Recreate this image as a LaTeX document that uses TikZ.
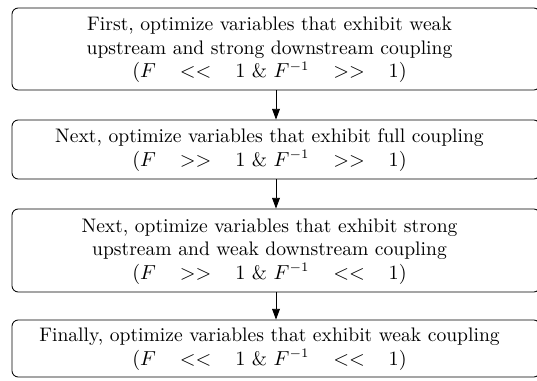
\documentclass[tikz,border=0pt]{standalone}
\usetikzlibrary{arrows.meta}
\begin{document}
\begin{tikzpicture}[x=0.54pt,y=-0.54pt,
  stepbox/.style={draw, rounded corners=3.4pt, line width=0.45pt, minimum width=528*0.54pt, inner sep=0pt},
  steptext/.style={align=center, inner sep=0pt, font=\fontsize{10.58}{12.7}\selectfont},
  flow/.style={-{Triangle[length=5.8pt,width=4.2pt]}, line width=0.45pt}]
\useasboundingbox (0,0) rectangle (537,380);
\newcommand{\relgap}{\hspace{0.93em}}
\node[stepbox, minimum height=82*0.54pt] (b1) at (276,49) {};
\node[stepbox, minimum height=59*0.54pt] (b2) at (276,149.5) {};
\node[stepbox, minimum height=83*0.54pt] (b3) at (276,250.5) {};
\node[stepbox, minimum height=57*0.54pt] (b4) at (276,348.5) {};
\node[steptext] (t1) at (269.5,50) {First, optimize variables that exhibit weak\\upstream and strong downstream coupling\\$(F\relgap<<\relgap1$ \& $F^{-1}\relgap>>\relgap1)$};
\node[steptext] (t2) at (269.5,150) {Next, optimize variables that exhibit full coupling\\$(F\relgap>>\relgap1$ \& $F^{-1}\relgap>>\relgap1)$};
\node[steptext] (t3) at (269.5,251.5) {Next, optimize variables that exhibit strong\\upstream and weak downstream coupling\\$(F\relgap>>\relgap1$ \& $F^{-1}\relgap<<\relgap1)$};
\node[steptext] (t4) at (269.5,349) {Finally, optimize variables that exhibit weak coupling\\$(F\relgap<<\relgap1$ \& $F^{-1}\relgap<<\relgap1)$};
\draw[flow] (b1.south) -- (b2.north);
\draw[flow] (b2.south) -- (b3.north);
\draw[flow] (b3.south) -- (b4.north);
\end{tikzpicture}
\end{document}
